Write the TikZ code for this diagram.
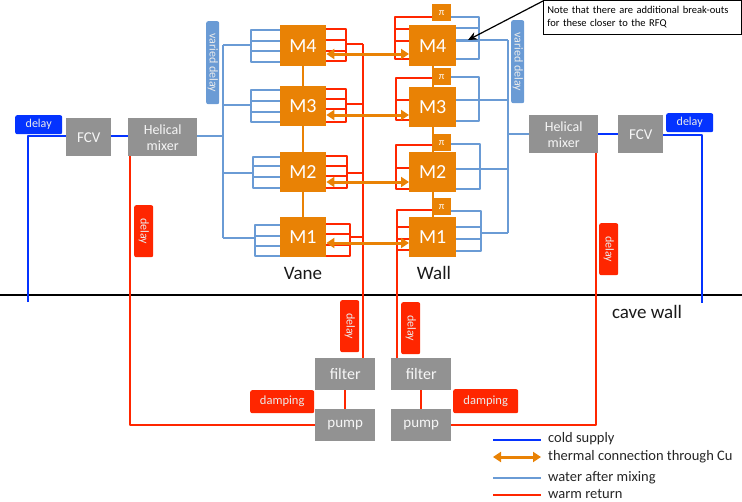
\documentclass[tikz,border=0pt]{standalone}
\usepackage{fontspec}
\setmainfont{Carlito}
\usetikzlibrary{arrows.meta}
\definecolor{orng}{HTML}{E98205}
\definecolor{gry}{HTML}{929292}
\definecolor{coldc}{HTML}{0433FF}
\definecolor{warm}{HTML}{FF2600}
\definecolor{mixw}{HTML}{6A9BD5}
\tikzset{
  mbox/.style={fill=orng,text=white,inner sep=0pt,font=\fontsize{20}{20}\selectfont,minimum width=#1},
  mbox/.default=47pt,
  pibox/.style={fill=orng,text=white,inner sep=0pt,minimum width=19pt,font=\fontsize{10}{10}\selectfont},
  gbox/.style={fill=gry,text=white!92!gry,inner sep=0pt,align=center},
  tag/.style={rounded corners=2pt,text=white!92!black,inner sep=0pt,font=\fontsize{12}{12}\selectfont},
  coldl/.style={draw=coldc,line width=2pt,line join=round},
  warml/.style={draw=warm,line width=1.6pt,line join=round},
  mixl/.style={draw=mixw,line width=1.6pt,line join=round},
  orl/.style={draw=orng,line width=1.6pt},
  therm/.style={draw=orng,line width=3pt,{Triangle[length=8pt,width=10pt]}-{Triangle[length=8pt,width=10pt]}},
  capt/.style={inner sep=0pt,font=\fontsize{19}{19}\selectfont,text=black!90},
  lgd/.style={inner sep=0pt,anchor=west,font=\fontsize{14.5}{14.5}\selectfont,text=black!85}
}
% boxes given by corners in px
\newcommand{\bx}[6]{\node[#1,minimum width=#4pt-#3pt,minimum height=#6pt-#5pt,anchor=north west] (#2) at (#3,#5)}
\begin{document}
\begin{tikzpicture}[x=1pt,y=-1pt]
\useasboundingbox (0,0) rectangle (742,501);

% coordinates for trunks
\coordinate (vmt) at (223,45);   \coordinate (vmb) at (223,238);
\coordinate (wmt) at (508,40);   \coordinate (wmb) at (508,233);
\coordinate (vrt) at (363,44);
\coordinate (wrb) at (397,210);

% --- water after mixing, vane side
\draw[mixl] (197,136) -- (223,136);
\draw[mixl] (vmt) -- (vmb);
\foreach \cx/\fy/\ra/\rb/\rc/\rd in {251/45/30/41/51/62,251/105/90/101/112/122,253/173/157/166/177/188,255/238/225/236/246/256}{
  \draw[mixl] (223,\fy) -- (\cx,\fy);
  \draw[mixl] (279.5,\ra) -- (\cx,\ra) -- (\cx,\rd) -- (279.5,\rd);
  \draw[mixl] (\cx,\rb) -- (279.5,\rb);
  \draw[mixl] (\cx,\rc) -- (279.5,\rc);
}
% --- warm return, vane side
\foreach \cx/\fy/\ra/\rb/\rc/\rd in {346/44/29/40/51/61,346/104/89/99/109/122,347/173/156/166/176/188,350/237/224/234/245/256}{
  \draw[warml] (363,\fy) -- (\cx,\fy);
  \draw[warml] (326,\ra) -- (\cx,\ra) -- (\cx,\rd) -- (326,\rd);
  \draw[warml] (\cx,\rb) -- (326,\rb);
  \draw[warml] (\cx,\rc) -- (326,\rc);
}
% --- water after mixing, wall side
\draw[mixl] (wmt) -- (wmb);
\draw[mixl] (508,134) -- (529,134);
\draw[mixl] (456,40) -- (508,40);
\draw[mixl] (479,100) -- (508,100);
\draw[mixl] (480,169) -- (508,169);
\draw[mixl] (481,233) -- (508,233);
\foreach \cx/\ta/\bo/\rows in {479/17/59/{28,41},479/77/121/{100},480/144/189/{169},481/211/251/{227,239}}{
  \draw[mixl] (445,\ta) -- (\cx,\ta) -- (\cx,\bo) -- (456,\bo);
  \foreach \r in \rows { \draw[mixl] (456,\r) -- (\cx,\r); }
}
% --- warm return, wall side
\foreach \cx/\ta/\bo/\rows in {395/17/59/{29,41},396/78/120/{100},396/145/189/{168},397/210/250/{227,239}}{
  \draw[warml] (440,\ta) -- (\cx,\ta) -- (\cx,\bo) -- (412,\bo);
  \foreach \r in \rows { \draw[warml] (\cx,\r) -- (412,\r); }
}

% --- grey boxes
\bx{gbox,font=\fontsize{15}{15}\selectfont}{fcvl}{66}{111}{118}{156} {FCV};
\bx{gbox,font=\fontsize{14}{16}\selectfont}{hml}{128}{197}{118}{156} {Helical\\mixer};
\bx{gbox,font=\fontsize{14}{16}\selectfont}{hmr}{529}{598}{115}{153} {Helical\\mixer};
\bx{gbox,font=\fontsize{15}{15}\selectfont}{fcvr}{618}{663}{115}{153} {FCV};
\bx{gbox,font=\fontsize{16}{16}\selectfont}{fl}{315}{375}{358}{390} {filter};
\bx{gbox,font=\fontsize{16}{16}\selectfont}{fr}{391}{451}{358}{390} {filter};
\bx{gbox,font=\fontsize{15}{15}\selectfont}{pl}{315}{375}{409}{441} {pump};
\bx{gbox,font=\fontsize{15}{15}\selectfont}{pr}{391}{451}{409}{441} {pump};

% --- cave wall
\coordinate (cw1) at (0,295); \coordinate (cw2) at (742,295);
\draw[black,line width=1.7pt] (cw1) -- (cw2);

% --- warm return trunks
\draw[warml] (hml.south -| 130,0) -- (130,425) -- (pl.west |- 0,425);
\draw[warml] (hmr.south -| 596,0) -- (596,425) -- (pr.east |- 0,425);
\draw[warml] (vrt) -- (fl.north -| vrt);
\draw[warml] (wrb) -- (fr.north -| wrb);
\draw[warml] (fl) -- (pl);
\draw[warml] (fr) -- (pr);

% --- cold supply
\coordinate (cfl) at (27.5,302); \coordinate (cfr) at (701.5,303);
\coordinate (ccl) at (27.5,136); \coordinate (ccr) at (701.5,135);
\draw[coldl] (cfl) -- (ccl) -- (fcvl.west |- ccl);
\draw[coldl] (fcvl.east |- ccl) -- (hml.west |- ccl);
\draw[coldl] (hmr.east |- 0,134) -- (fcvr.west |- 0,134);
\draw[coldl] (fcvr.east |- ccr) -- (ccr) -- (cfr);

% --- modules
\foreach \n/\t/\b in {4/25/66,3/86/126,2/152/192,1/217/257}{
  \node[mbox=46.5pt,minimum height=\b pt-\t pt,anchor=north west] (v\n) at (279.5,\t) {M\n};
}
\foreach \n/\t/\b in {4/25/66,3/87/127,2/152/192,1/217/257}{
  \node[mbox=47pt,minimum height=\b pt-\t pt,anchor=north west] (w\n) at (409,\t) {M\n};
}
\foreach \n/\t/\b in {4/4/21,3/68/85,2/134/151,1/198/215}{
  \node[pibox,minimum height=\b pt-\t pt,anchor=north west] (p\n) at (432,\t) {π};
}
% --- copper links
\draw[orl] (v4) -- (v3); \draw[orl] (v3) -- (v2); \draw[orl] (v2) -- (v1);
\draw[orl] (w4) -- (w3); \draw[orl] (w3) -- (w2); \draw[orl] (w2) -- (w1);
\foreach \n/\y in {4/54,3/115,2/182,1/243}{
  \draw[therm] (v\n.east |- 0,\y) -- (w\n.west |- 0,\y);
}

% --- delay tags
\bx{tag,fill=coldc}{dbl}{15}{62}{115}{134} {delay};
\bx{tag,fill=coldc}{dbr}{666}{713}{113}{132} {delay};
\bx{tag,fill=warm}{drl}{134}{153}{205}{257} {\rotatebox{-90}{delay}};
\bx{tag,fill=warm}{drr}{599}{618}{223}{275} {\rotatebox{-90}{delay}};
\bx{tag,fill=warm}{dr1}{340}{359}{300}{352} {\rotatebox{-90}{delay}};
\bx{tag,fill=warm}{dr2}{401}{420}{302}{354} {\rotatebox{-90}{delay}};
\bx{tag,fill=warm,font=\fontsize{12.5}{12.5}\selectfont}{dm1}{250}{314}{390}{413} {damping};
\bx{tag,fill=warm,font=\fontsize{12.5}{12.5}\selectfont}{dm2}{453}{518}{389}{413} {damping};
\bx{tag,fill=mixw,font=\fontsize{12}{12}\selectfont}{vdl}{206}{219}{21}{104} {\rotatebox{-90}{varied delay}};
\bx{tag,fill=mixw,font=\fontsize{12}{12}\selectfont}{vdr}{511}{524}{20}{103} {\rotatebox{-90}{varied delay}};

% --- captions
\node[capt] (vane) at (303,273) {Vane};
\node[capt] (wall) at (434,273) {Wall};
\node[capt] (cave) at (647,312) {cave wall};

% --- note
\node[draw=black,line width=0.7pt,fill=white,text=black,inner sep=0pt,anchor=north west,minimum width=198pt,minimum height=34pt,
  font=\fontsize{10.5}{12.5}\selectfont,align=left,text width=190pt] (note) at (543,-0.5)
  {Note that there are additional break-outs\\ for these closer to the RFQ};
\coordinate (nt) at (468,40);
\draw[black,line width=1.2pt,-{Stealth[length=9pt,width=8pt]}] (note.west |- 0,1) -- (nt);

% --- legend
\coordinate (a1) at (493,440); \coordinate (a2) at (541,440);
\coordinate (b1) at (493,457); \coordinate (b2) at (541,457);
\coordinate (c1) at (493,478); \coordinate (c2) at (541,478);
\coordinate (d1) at (493,495); \coordinate (d2) at (541,495);
\draw[coldl] (a1) -- (a2);
\draw[therm] (b1) -- (b2);
\draw[mixl] (c1) -- (c2);
\draw[warml] (d1) -- (d2);
\node[lgd] (la) at (548,439) {cold supply};
\node[lgd] (lb) at (548,457) {thermal connection through Cu};
\node[lgd] (lc) at (548,478) {water after mixing};
\node[lgd] (ld) at (548,494) {warm return};
\end{tikzpicture}
\end{document}
